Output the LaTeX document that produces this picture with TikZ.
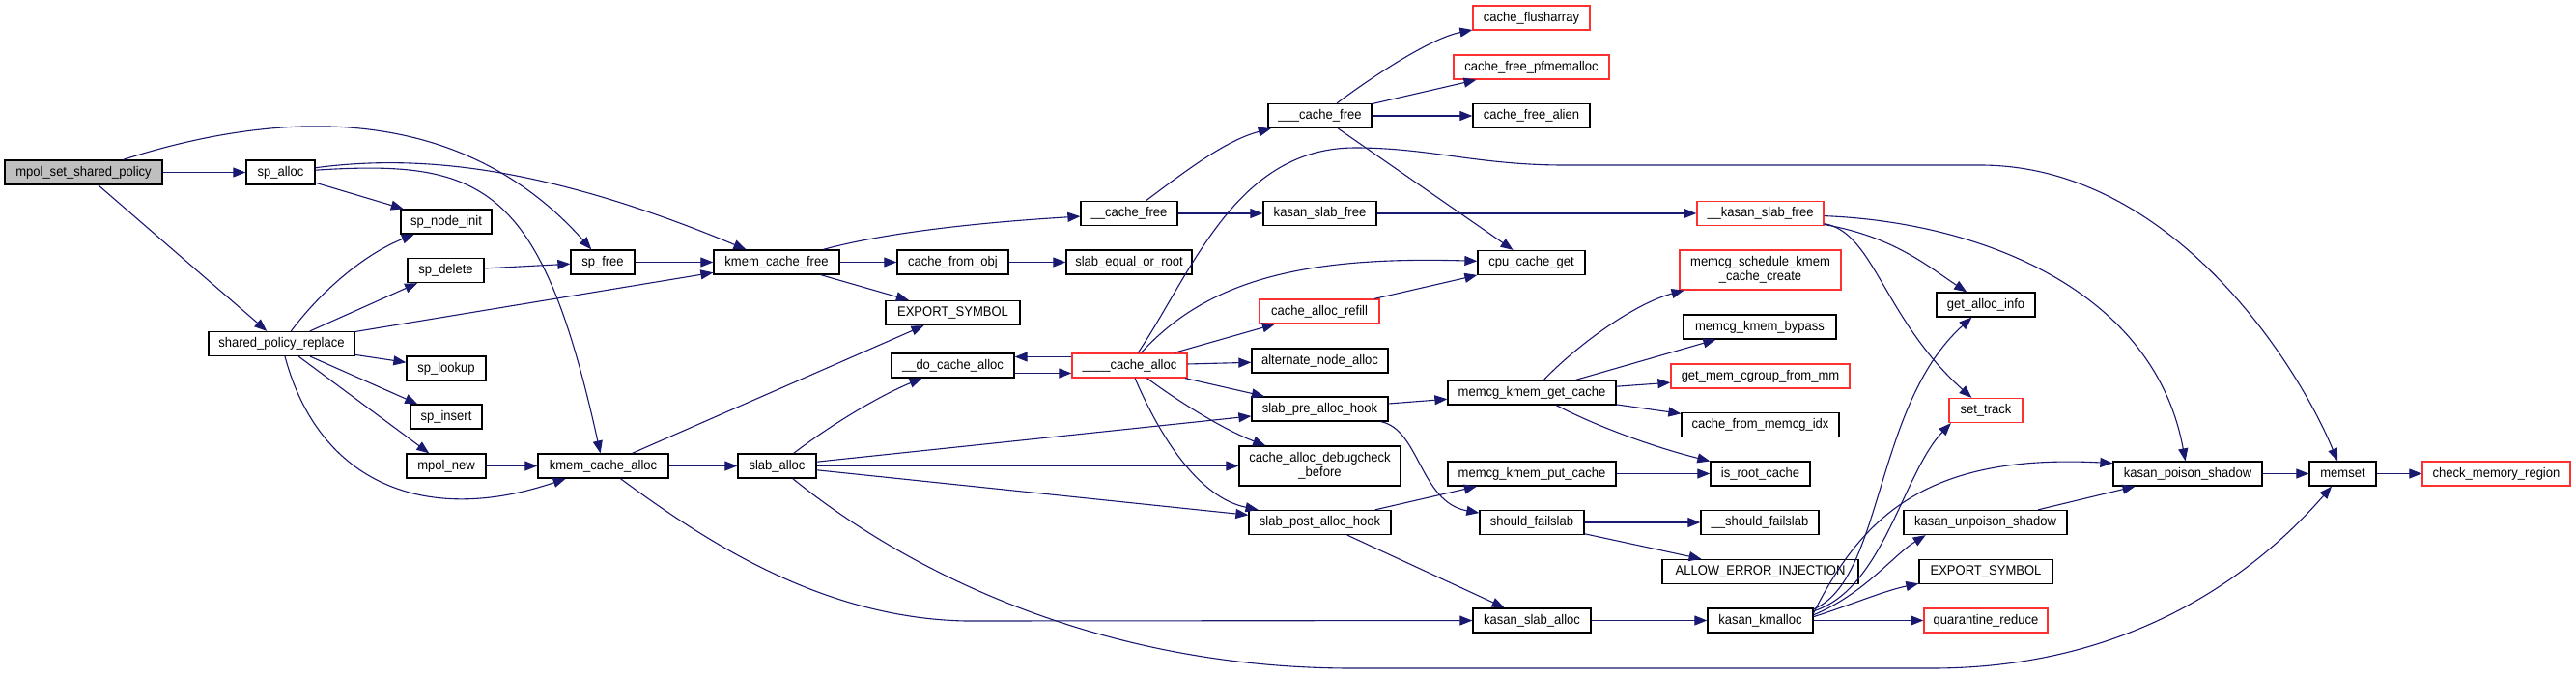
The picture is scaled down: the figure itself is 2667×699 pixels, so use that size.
\documentclass[tikz,border=0pt]{standalone}
\usepackage{fontspec}
\setmainfont{Liberation Sans}[FakeStretch=0.93]
\usetikzlibrary{arrows.meta}
\definecolor{edgeblue}{HTML}{191970}
\definecolor{boxred}{HTML}{FF3030}
\definecolor{rootgray}{HTML}{BFBFBF}

\begin{document}
\begin{tikzpicture}[x=1pt, y=-1pt,
		fn/.style={draw=black, fill=white, line width=1.3pt, minimum height=25pt, inner sep=0pt, font=\fontsize{14}{15}\selectfont},
		fnred/.style={fn, draw=boxred},
		fnroot/.style={fn, fill=rootgray},
		call/.style={draw=edgeblue, line width=1.1pt, -{Triangle[length=13pt,width=10pt]}}]
			
			\useasboundingbox (0,0) rectangle (2667,699);
			
			% 1. THE ROOT FUNCTION
			\node[fnroot, minimum width=163pt] (mpol) at (86.5,178.5) {mpol\_set\_shared\_policy};
			
			% 2. SHARED POLICY HELPERS
			\node[fn, minimum width=71pt] (spalloc) at (290.5,178.5) {sp\_alloc};
			\node[fn, minimum width=151pt] (spreplace) at (291.5,356) {shared\_policy\_replace};
			\node[fn, minimum width=94pt] (spnodeinit) at (462,229.5) {sp\_node\_init};
			\node[fn, minimum width=79pt] (spdelete) at (461.5,280) {sp\_delete};
			\node[fn, minimum width=82pt] (splookup) at (462,381.5) {sp\_lookup};
			\node[fn, minimum width=74pt] (spinsert) at (462,431.5) {sp\_insert};
			\node[fn, minimum width=82pt] (mpolnew) at (462,482.5) {mpol\_new};
			\node[fn, minimum width=66pt] (spfree) at (624,271.5) {sp\_free};
			\node[fn, minimum width=135pt] (kcalloc) at (624.5,482.5) {kmem\_cache\_alloc};
			
			% 3. SLAB ENTRY POINTS
			\node[fn, minimum width=130pt] (kcfree) at (804,271.5) {kmem\_cache\_free};
			\node[fn, minimum width=81pt] (slaballoc) at (804.5,482.5) {slab\_alloc};
			\node[fn, minimum width=115pt] (fromobj) at (986.5,271.5) {cache\_from\_obj};
			\node[fn, minimum width=139pt] (export1) at (986.5,324) {EXPORT\_SYMBOL};
			\node[fn, minimum width=127pt] (docalloc) at (986.5,378.5) {\_\_do\_cache\_alloc};
			\node[fn, minimum width=130pt] (eqroot) at (1169,271.5) {slab\_equal\_or\_root};
			\node[fn, minimum width=100pt] (cfree2) at (1169,221) {\_\_cache\_free};
			\node[fnred, minimum width=119pt] (calloc4) at (1169.5,378.5) {\_\_\_\_cache\_alloc};
			
			% 4. CACHE INTERNALS
			\node[fn, minimum width=107pt] (cfree3) at (1366.5,120) {\_\_\_cache\_free};
			\node[fn, minimum width=117pt] (kslabfree) at (1366.5,221) {kasan\_slab\_free};
			\node[fnred, minimum width=124pt] (refill) at (1366,322.5) {cache\_alloc\_refill};
			\node[fn, minimum width=141pt] (altnode) at (1366.5,373.5) {alternate\_node\_alloc};
			\node[fn, minimum width=141pt] (prehook) at (1366.5,423.5) {slab\_pre\_alloc\_hook};
			\node[fn, minimum width=167pt, minimum height=41pt, align=center] (debugcheck) at (1366.5,482.5) {cache\_alloc\_debugcheck\\\_before};
			\node[fn, minimum width=147pt] (posthook) at (1366.5,541) {slab\_post\_alloc\_hook};
			
			\node[fnred, minimum width=121pt] (flusharray) at (1585.5,18.5) {cache\_flusharray};
			\node[fnred, minimum width=161pt] (pfmemalloc) at (1585.5,69.5) {cache\_free\_pfmemalloc};
			\node[fn, minimum width=121pt] (freealien) at (1585.5,120) {cache\_free\_alien};
			\node[fn, minimum width=111pt] (cpuget) at (1585.5,272) {cpu\_cache\_get};
			\node[fn, minimum width=174pt] (getcache) at (1586,406.5) {memcg\_kmem\_get\_cache};
			\node[fn, minimum width=174pt] (putcache) at (1586,490.5) {memcg\_kmem\_put\_cache};
			\node[fn, minimum width=108pt] (failslab) at (1586,541) {should\_failslab};
			\node[fn, minimum width=122pt] (kslaballoc) at (1586,642.5) {kasan\_slab\_alloc};
			
			% 5. MEMCG AND KASAN
			\node[fnred, minimum width=131pt] (kslabfree2) at (1822.5,221) {\_\_kasan\_slab\_free};
			\node[fnred, minimum width=167pt, minimum height=41pt, align=center] (schedcreate) at (1822.5,279.5) {memcg\_schedule\_kmem\\\_cache\_create};
			\node[fn, minimum width=158pt] (bypass) at (1822,338.5) {memcg\_kmem\_bypass};
			\node[fnred, minimum width=185pt] (frommm) at (1822.5,389.5) {get\_mem\_cgroup\_from\_mm};
			\node[fn, minimum width=163pt] (fromidx) at (1822.5,440) {cache\_from\_memcg\_idx};
			\node[fn, minimum width=103pt] (isroot) at (1822.5,490.5) {is\_root\_cache};
			\node[fn, minimum width=122pt] (failslab2) at (1822,541) {\_\_should\_failslab};
			\node[fn, minimum width=203pt] (allowerr) at (1822.5,592) {ALLOW\_ERROR\_INJECTION};
			\node[fn, minimum width=109pt] (kkmalloc) at (1822.5,642.5) {kasan\_kmalloc};
			
			\node[fn, minimum width=102pt] (allocinfo) at (2056,315.5) {get\_alloc\_info};
			\node[fnred, minimum width=76pt] (settrack) at (2056,425) {set\_track};
			\node[fn, minimum width=169pt] (unpoison) at (2055.5,541) {kasan\_unpoison\_shadow};
			\node[fn, minimum width=138pt] (export2) at (2056,592) {EXPORT\_SYMBOL};
			\node[fnred, minimum width=128pt] (quarantine) at (2056,642.5) {quarantine\_reduce};
			
			\node[fn, minimum width=154pt] (poison) at (2265,490.5) {kasan\_poison\_shadow};
			\node[fn, minimum width=69pt] (memset) at (2425.5,490.5) {memset};
			\node[fnred, minimum width=153pt] (checkmem) at (2584.5,490.5) {check\_memory\_region};
			
			% Calls from the root
			\draw[call] (mpol) -- (spalloc);
			\draw[call] (mpol) -- (spreplace);
			\draw[call] (mpol) .. controls (300,110) and (480,110) .. (spfree);
			
			% sp_alloc
			\draw[call] (spalloc) -- (spnodeinit);
			\draw[call] (spalloc) .. controls (500,165) and (560,190) .. (kcalloc);
			\draw[call] (spalloc) .. controls (430,160) and (560,170) .. (kcfree);
			
			% shared_policy_replace
			\draw[call] (spreplace) .. controls (335,298) and (380,262) .. (spnodeinit);
			\draw[call] (spreplace) -- (spdelete);
			\draw[call] (spreplace) -- (kcfree);
			\draw[call] (spreplace) -- (splookup);
			\draw[call] (spreplace) -- (spinsert);
			\draw[call] (spreplace) -- (mpolnew);
			\draw[call] (spreplace) .. controls (330,500) and (440,545) .. (kcalloc);
			
			\draw[call] (spdelete) -- (spfree);
			\draw[call] (spfree) -- (kcfree);
			\draw[call] (mpolnew) -- (kcalloc);
			
			% kmem_cache_free
			\draw[call] (kcfree) .. controls (920,240) and (1020,230) .. (cfree2);
			\draw[call] (kcfree) -- (fromobj);
			\draw[call] (kcfree) -- (export1);
			\draw[call] (fromobj) -- (eqroot);
			
			% kmem_cache_alloc
			\draw[call] (kcalloc) -- (export1);
			\draw[call] (kcalloc) -- (slaballoc);
			\draw[call] (kcalloc) .. controls (730,560) and (850,640) .. (1000,643) -- (kslaballoc);
			
			% slab_alloc
			\draw[call] (slaballoc) .. controls (860,440) and (910,410) .. (docalloc);
			\draw[call] (slaballoc) -- (prehook);
			\draw[call] (slaballoc) -- (debugcheck);
			\draw[call] (slaballoc) -- (posthook);
			\draw[call] (slaballoc) .. controls (950,600) and (1150,692) .. (1400,692) -- (2000,692) .. controls (2200,692) and (2330,600) .. (memset);
			
			% The two way call
			\draw[call] ([yshift=-8pt]docalloc.east) -- ([yshift=-8pt]calloc4.west);
			\draw[call] ([yshift=9pt]calloc4.west) -- ([yshift=9pt]docalloc.east);
			
			% ____cache_alloc
			\draw[call] (calloc4) -- (altnode);
			\draw[call] (calloc4) -- (prehook);
			\draw[call] (calloc4) .. controls (1240,430) and (1280,450) .. (debugcheck);
			\draw[call] (calloc4) .. controls (1200,450) and (1240,515) .. (posthook);
			\draw[call] (calloc4) -- (refill);
			\draw[call] (calloc4) .. controls (1250,290) and (1350,265) .. (cpuget);
			\draw[call] (calloc4) .. controls (1235,280) and (1280,153) .. (1403,153) .. controls (1480,153) and (1530,171) .. (1620,171) -- (2050,171) .. controls (2250,171) and (2380,380) .. (memset);
			
			% ___cache_free
			\draw[call] (cfree2) .. controls (1230,175) and (1270,145) .. (cfree3);
			\draw[call] (cfree2) -- (kslabfree);
			\draw[call] (cfree3) .. controls (1420,80) and (1480,40) .. (flusharray);
			\draw[call] (cfree3) -- (pfmemalloc);
			\draw[call] (cfree3) -- (freealien);
			\draw[call] (cfree3) -- (cpuget);
			\draw[call] (refill) -- (cpuget);
			
			% kasan free path
			\draw[call] (kslabfree) -- (kslabfree2);
			\draw[call] (kslabfree2) .. controls (1960,245) and (1995,275) .. (allocinfo);
			\draw[call] (kslabfree2) .. controls (1940,240) and (1950,330) .. (settrack);
			\draw[call] (kslabfree2) .. controls (2050,230) and (2230,300) .. (poison);
			
			% Hooks
			\draw[call] (prehook) -- (getcache);
			\draw[call] (prehook) .. controls (1470,445) and (1470,520) .. (failslab);
			\draw[call] (posthook) -- (putcache);
			\draw[call] (posthook) -- (kslaballoc);
			
			% memcg
			\draw[call] (getcache) .. controls (1630,360) and (1690,315) .. (schedcreate);
			\draw[call] (getcache) -- (bypass);
			\draw[call] (getcache) -- (frommm);
			\draw[call] (getcache) -- (fromidx);
			\draw[call] (getcache) .. controls (1660,445) and (1720,465) .. (isroot);
			\draw[call] (putcache) -- (isroot);
			\draw[call] (failslab) -- (failslab2);
			\draw[call] (failslab) -- (allowerr);
			
			% kasan alloc path
			\draw[call] (kslaballoc) -- (kkmalloc);
			\draw[call] (kkmalloc.12) .. controls (1950,600) and (1940,420) .. (allocinfo);
			\draw[call] (kkmalloc.10) .. controls (1950,610) and (1970,490) .. (settrack.200);
			\draw[call] (kkmalloc.8) .. controls (1930,530) and (2000,470) .. (poison.172);
			\draw[call] (kkmalloc.6) .. controls (1930,615) and (1960,575) .. (unpoison.192);
			\draw[call] (kkmalloc.4) .. controls (1920,625) and (1950,612) .. (export2.190);
			\draw[call] (kkmalloc) -- (quarantine);
			\draw[call] (unpoison) -- (poison);
			\draw[call] (poison) -- (memset);
			\draw[call] (memset) -- (checkmem);
			
		\end{tikzpicture}
\end{document}
